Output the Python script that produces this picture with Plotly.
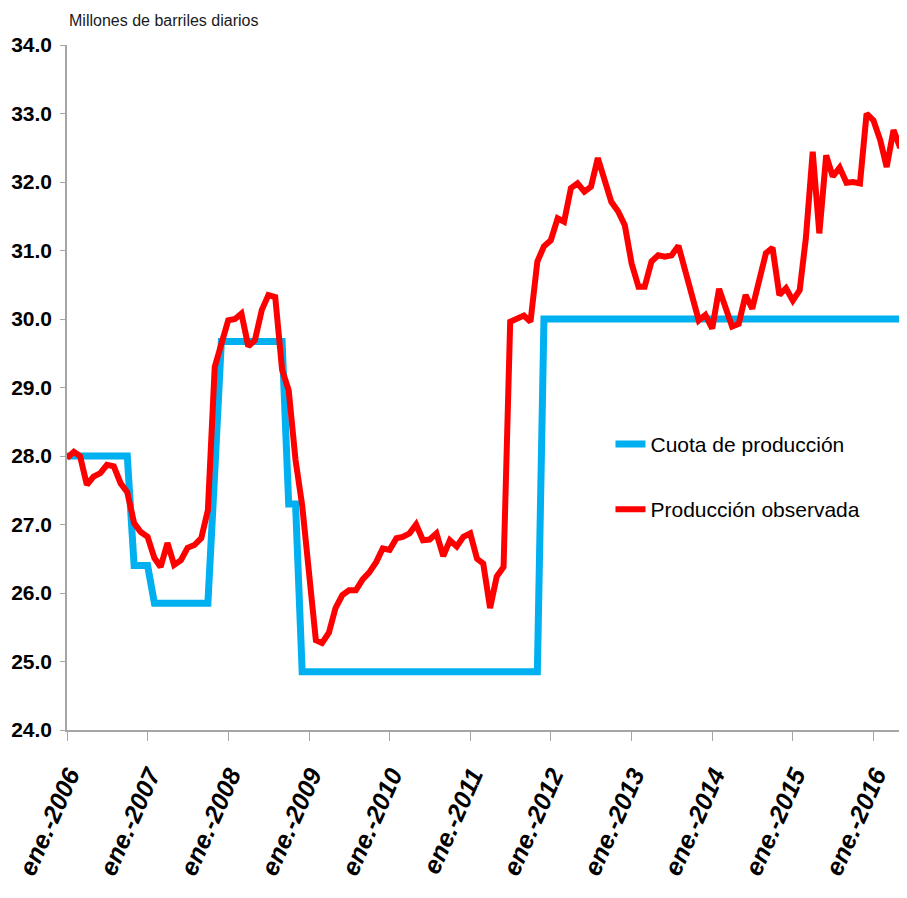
import pandas as pd
import plotly.graph_objects as go

# meses ene.-2006 .. jun.-2016
meses = pd.date_range('2006-01-01', '2016-06-01', freq='MS')

# millones de barriles diarios, un año por línea
cuota = [
    28.0, 28.0, 28.0, 28.0, 28.0, 28.0, 28.0, 28.0, 28.0, 28.0, 26.4, 26.4,
    26.4, 25.85, 25.85, 25.85, 25.85, 25.85, 25.85, 25.85, 25.85, 25.85, 27.76, 29.67,
    29.67, 29.67, 29.67, 29.67, 29.67, 29.67, 29.67, 29.67, 29.67, 27.3, 27.3, 24.85,
    24.85, 24.85, 24.85, 24.85, 24.85, 24.85, 24.85, 24.85, 24.85, 24.85, 24.85, 24.85,
    24.85, 24.85, 24.85, 24.85, 24.85, 24.85, 24.85, 24.85, 24.85, 24.85, 24.85, 24.85,
    24.85, 24.85, 24.85, 24.85, 24.85, 24.85, 24.85, 24.85, 24.85, 24.85, 24.85, 30.0,
    30.0, 30.0, 30.0, 30.0, 30.0, 30.0, 30.0, 30.0, 30.0, 30.0, 30.0, 30.0,
    30.0, 30.0, 30.0, 30.0, 30.0, 30.0, 30.0, 30.0, 30.0, 30.0, 30.0, 30.0,
    30.0, 30.0, 30.0, 30.0, 30.0, 30.0, 30.0, 30.0, 30.0, 30.0, 30.0, 30.0,
    30.0, 30.0, 30.0, 30.0, 30.0, 30.0, 30.0, 30.0, 30.0, 30.0, 30.0, 30.0,
    30.0, 30.0, 30.0, 30.0, 30.0, 30.0,
]

produccion = [
    27.97, 28.06, 28.00, 27.58, 27.70, 27.75, 27.87, 27.85, 27.60, 27.47, 27.02, 26.89,
    26.82, 26.51, 26.38, 26.73, 26.41, 26.48, 26.66, 26.70, 26.80, 27.21, 29.30, 29.65,
    29.98, 30.00, 30.08, 29.60, 29.69, 30.13, 30.35, 30.32, 29.26, 28.96, 27.94, 27.28,
    26.30, 25.31, 25.27, 25.42, 25.78, 25.97, 26.04, 26.04, 26.20, 26.30, 26.45, 26.65,
    26.63, 26.80, 26.82, 26.87, 27.00, 26.77, 26.78, 26.87, 26.54, 26.77, 26.68, 26.82,
    26.87, 26.50, 26.43, 25.78, 26.24, 26.38, 29.96, 30.01, 30.05, 29.96, 30.84, 31.06,
    31.15, 31.47, 31.42, 31.91, 31.98, 31.86, 31.93, 32.35, 32.03, 31.71, 31.57, 31.37,
    30.81, 30.47, 30.47, 30.84, 30.93, 30.91, 30.93, 31.07, 30.70, 30.33, 29.98, 30.06,
    29.86, 30.44, 30.16, 29.89, 29.93, 30.35, 30.15, 30.54, 30.96, 31.04, 30.35, 30.45,
    30.27, 30.42, 31.18, 32.44, 31.25, 32.39, 32.08, 32.21, 31.99, 32.00, 31.98, 33.00,
    32.90, 32.61, 32.22, 32.76, 32.50, 33.15,
]

anios = list(range(2006, 2017))
etiquetas_x = ['ene.-%d' % a for a in anios]

fuente = 'Liberation Sans, Arial, sans-serif'

fig = go.Figure()
fig.add_trace(go.Scatter(x=meses, y=cuota, name='Cuota de producción', mode='lines',
                         line=dict(color='#00b0f0', width=7), legendgroup='a'))
fig.add_trace(go.Scatter(x=meses, y=produccion, name='Producción observada', mode='lines',
                         line=dict(color='#ff0000', width=6), legendgroup='b'))

# la página añade 8px de margen al body, se descuentan aquí
fig.update_layout(
    width=899, height=888,
    margin=dict(l=59, r=0, t=37, b=166, autoexpand=False),
    plot_bgcolor='white', paper_bgcolor='white',
    showlegend=True,
    legend=dict(x=0.647, y=0.447, xanchor='left', yanchor='top',
                font=dict(family=fuente, size=21, color='#000000'),
                traceorder='grouped', tracegroupgap=35,
                bgcolor='rgba(0,0,0,0)'),
    annotations=[dict(text='Millones de barriles diarios', x=0, y=1,
                      xref='paper', yref='paper', xanchor='left', yanchor='bottom',
                      yshift=14, showarrow=False,
                      font=dict(family=fuente, size=16, color='#1a1a1a'))],
)

fig.update_xaxes(
    range=[meses[0], meses[-1]],
    tickvals=[pd.Timestamp('%d-01-01' % a) for a in anios],
    ticktext=etiquetas_x, tickangle=-66,
    tickfont=dict(family=fuente, size=25, color='#000000', weight='bold', style='italic'),
    ticklabeloverflow='allow', ticklabelstandoff=10, ticklabelshift=2,
    showline=True, linecolor='#a6a6a6', linewidth=1.5,
    ticks='outside', ticklen=9, tickcolor='#a6a6a6',
    showgrid=False, zeroline=False,
)
fig.update_yaxes(
    range=[24, 34], dtick=1, tickformat='.1f',
    tickfont=dict(family=fuente, size=21, color='#000000', weight='bold'),
    showline=True, linecolor='#a6a6a6', linewidth=1.5,
    ticks='outside', ticklen=5, tickcolor='#a6a6a6',
    ticklabelstandoff=4,
    showgrid=False, zeroline=False,
)

fig.write_html('out.html')
